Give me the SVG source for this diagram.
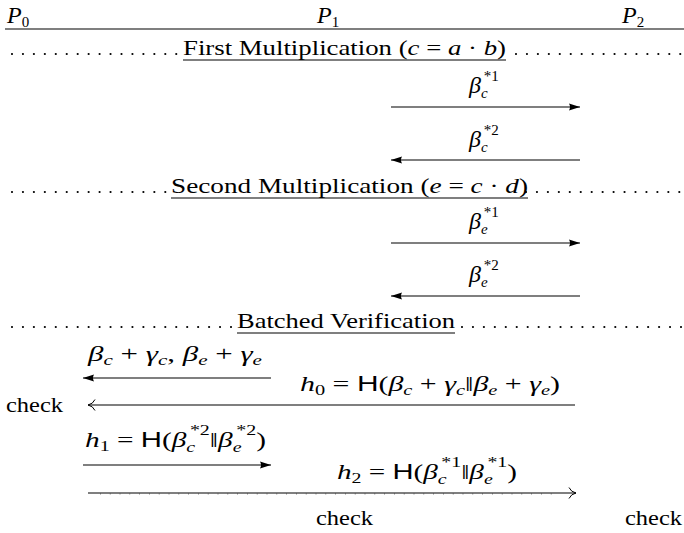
<svg xmlns="http://www.w3.org/2000/svg" width="684" height="533" viewBox="0 0 684 533">
<style>
text{font-family:"Liberation Serif","DejaVu Serif",serif;font-size:22px;fill:#000}
.i{font-style:italic}
.s{font-size:15px}
.b{font-size:24px}
.sf{font-family:"Liberation Sans","DejaVu Sans",sans-serif}
.ln{stroke:#000;stroke-width:1.2;fill:none}
.dots{stroke:#000;stroke-width:2.2;stroke-linecap:round;stroke-dasharray:0 10.95;fill:none}
</style>
<defs>
<marker id="fa" markerUnits="userSpaceOnUse" markerWidth="12" markerHeight="10" refX="11" refY="5" orient="auto">
<path d="M0,1.5 L11,5 L0,8.5 Q2,5 0,1.5 Z" fill="#000"/>
</marker>
<marker id="oa" markerUnits="userSpaceOnUse" markerWidth="12" markerHeight="14" refX="10" refY="7" orient="auto">
<path d="M3,1.5 Q5,6 10,7 Q5,8 3,12.5" fill="none" stroke="#000" stroke-width="1"/>
</marker>
</defs>

<g id="header">
<text x="7" y="23"><tspan class="i b">P</tspan><tspan class="s" dy="4">0</tspan></text>
<text x="317" y="23"><tspan class="i b">P</tspan><tspan class="s" dy="4">1</tspan></text>
<text x="622" y="23"><tspan class="i b">P</tspan><tspan class="s" dy="4">2</tspan></text>
<line class="ln" x1="5" y1="29" x2="684" y2="29"/>
</g>

<g id="section1">
<line class="dots" x1="12" y1="54" x2="178" y2="54"/>
<line class="dots" x1="516" y1="54" x2="682" y2="54"/>
<text x="183" y="55" textLength="323" lengthAdjust="spacingAndGlyphs">First Multiplication (<tspan class="i">c</tspan> = <tspan class="i">a</tspan> · <tspan class="i">b</tspan>)</text>
<line class="ln" x1="183" y1="60" x2="506" y2="60"/>
</g>

<g id="section2">
<line class="dots" x1="12" y1="192" x2="166" y2="192"/>
<line class="dots" x1="526" y1="192" x2="682" y2="192"/>
<text x="171" y="193" textLength="357" lengthAdjust="spacingAndGlyphs">Second Multiplication (<tspan class="i">e</tspan> = <tspan class="i">c</tspan> · <tspan class="i">d</tspan>)</text>
<line class="ln" x1="171" y1="198" x2="528" y2="198"/>
</g>

<g id="section3">
<line class="dots" x1="12" y1="327" x2="231" y2="327"/>
<line class="dots" x1="462" y1="327" x2="682" y2="327"/>
<text x="237" y="328" textLength="218" lengthAdjust="spacingAndGlyphs">Batched Verification</text>
<line class="ln" x1="237" y1="333" x2="455" y2="333"/>
</g>

<g id="labels">
<text x="469" y="93"><tspan class="i b">β</tspan><tspan class="s i" dy="5">c</tspan><tspan class="s" dx="-4" dy="-17">*1</tspan></text>
<text x="469" y="147"><tspan class="i b">β</tspan><tspan class="s i" dy="5">c</tspan><tspan class="s" dx="-4" dy="-17">*2</tspan></text>
<text x="469" y="229"><tspan class="i b">β</tspan><tspan class="s i" dy="5">e</tspan><tspan class="s" dx="-4" dy="-17">*1</tspan></text>
<text x="469" y="282"><tspan class="i b">β</tspan><tspan class="s i" dy="5">e</tspan><tspan class="s" dx="-4" dy="-17">*2</tspan></text>

<text x="88" y="361" textLength="174" lengthAdjust="spacingAndGlyphs"><tspan class="i">β</tspan><tspan class="s i" dy="4">c</tspan><tspan dy="-4"> + </tspan><tspan class="i">γ</tspan><tspan class="s i" dy="4">c</tspan><tspan dy="-4">, </tspan><tspan class="i">β</tspan><tspan class="s i" dy="4">e</tspan><tspan dy="-4"> + </tspan><tspan class="i">γ</tspan><tspan class="s i" dy="4">e</tspan></text>

<text x="300" y="391" textLength="260" lengthAdjust="spacingAndGlyphs"><tspan class="i">h</tspan><tspan class="s" dy="4">0</tspan><tspan dy="-4"> = </tspan><tspan class="sf">H</tspan>(<tspan class="i">β</tspan><tspan class="s i" dy="4">c</tspan><tspan dy="-4"> + </tspan><tspan class="i">γ</tspan><tspan class="s i" dy="4">c</tspan><tspan dy="-4">‖</tspan><tspan class="i">β</tspan><tspan class="s i" dy="4">e</tspan><tspan dy="-4"> + </tspan><tspan class="i">γ</tspan><tspan class="s i" dy="4">e</tspan><tspan dy="-4">)</tspan></text>
<text x="6" y="412" textLength="57" lengthAdjust="spacingAndGlyphs">check</text>

<text x="85" y="447" textLength="181" lengthAdjust="spacingAndGlyphs"><tspan class="i">h</tspan><tspan class="s" dy="4">1</tspan><tspan dy="-4"> = </tspan><tspan class="sf">H</tspan>(<tspan class="i">β</tspan><tspan class="s i" dy="5">c</tspan><tspan class="s" dx="-4" dy="-17">*2</tspan><tspan dy="12">‖</tspan><tspan class="i">β</tspan><tspan class="s i" dy="5">e</tspan><tspan class="s" dx="-4" dy="-17">*2</tspan><tspan dy="12">)</tspan></text>

<text x="337" y="479" textLength="180" lengthAdjust="spacingAndGlyphs"><tspan class="i">h</tspan><tspan class="s" dy="4">2</tspan><tspan dy="-4"> = </tspan><tspan class="sf">H</tspan>(<tspan class="i">β</tspan><tspan class="s i" dy="5">c</tspan><tspan class="s" dx="-4" dy="-17">*1</tspan><tspan dy="12">‖</tspan><tspan class="i">β</tspan><tspan class="s i" dy="5">e</tspan><tspan class="s" dx="-4" dy="-17">*1</tspan><tspan dy="12">)</tspan></text>

<text x="316" y="525" textLength="57" lengthAdjust="spacingAndGlyphs">check</text>
<text x="625" y="525" textLength="57" lengthAdjust="spacingAndGlyphs">check</text>
</g>

<g id="connectors">
<line class="ln" x1="391" y1="107" x2="580" y2="107" marker-end="url(#fa)"/>
<line class="ln" x1="580" y1="160" x2="391" y2="160" marker-end="url(#fa)"/>
<line class="ln" x1="391" y1="243" x2="580" y2="243" marker-end="url(#fa)"/>
<line class="ln" x1="580" y1="296" x2="391" y2="296" marker-end="url(#fa)"/>
<line class="ln" x1="271" y1="378" x2="83" y2="378" marker-end="url(#fa)"/>
<line class="ln" x1="575" y1="405" x2="88" y2="405" marker-end="url(#oa)"/>
<line class="ln" x1="83" y1="465" x2="271" y2="465" marker-end="url(#fa)"/>
<line class="ln" x1="88" y1="493" x2="576" y2="493" marker-end="url(#oa)"/>
<line x1="100" y1="494" x2="560" y2="494" stroke="#000" stroke-width="0.6" stroke-dasharray="0.8 9"/>
</g>
</svg>
